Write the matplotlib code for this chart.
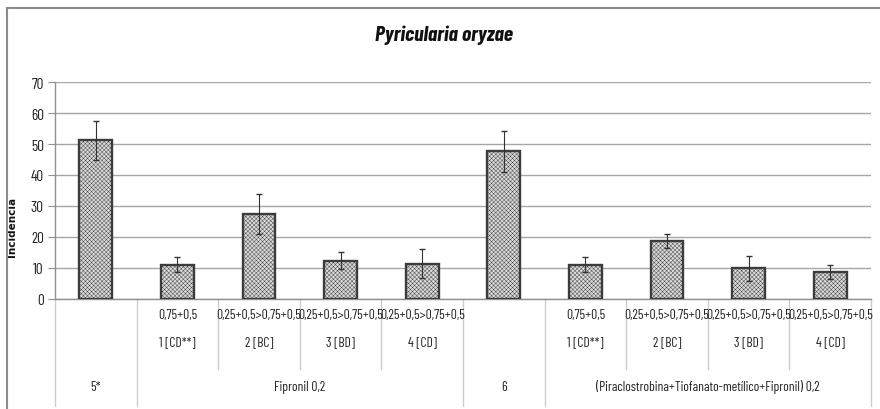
import matplotlib
matplotlib.use("Agg")
import matplotlib.pyplot as plt
from matplotlib.lines import Line2D
import numpy as np

# --- data -------------------------------------------------------------
incidencia = [51.2, 11.0, 27.3, 12.3, 11.2, 47.6, 11.0, 18.6, 9.8, 8.6]
erro = [6.2, 2.4, 6.5, 2.9, 4.7, 6.5, 2.4, 2.4, 4.1, 2.4]
doses = ["", "0,75+0,5", "0,25+0,5>0,75+0,5", "0,25+0,5>0,75+0,5",
         "0,25+0,5>0,75+0,5", "", "0,75+0,5", "0,25+0,5>0,75+0,5",
         "0,25+0,5>0,75+0,5", "0,25+0,5>0,75+0,5"]
tratamentos = ["", "1 [CD**]", "2 [BC]", "3 [BD]", "4 [CD]",
               "", "1 [CD**]", "2 [BC]", "3 [BD]", "4 [CD]"]
grupos = ["5*", "Fipronil 0,2", "6",
          "(Piraclostrobina+Tiofanato-metílico+Fipronil) 0,2"]
grupo_tamanho = [1, 4, 1, 4]
y_ticks = [0, 10, 20, 30, 40, 50, 60, 70]

# --- style ------------------------------------------------------------
plt.rcParams["font.family"] = ["Barlow Condensed", "DejaVu Sans"]
plt.rcParams["hatch.linewidth"] = 0.3
plt.rcParams["hatch.color"] = "#b4b4b4"
TXT = "#222222"
FS = 9.8

fig = plt.figure(figsize=(8.8, 4.1), dpi=100)
ax = fig.add_axes([0.0625, 0.2695, 0.9273, 0.5273])

n = len(incidencia)
x = np.arange(n)
ax.bar(x, incidencia, width=0.40, color="#d9d9d9", edgecolor="#3c3c3c",
       linewidth=1.7, hatch="xxxxxxxx", zorder=3)
ax.errorbar(x, incidencia, yerr=erro, fmt="none", ecolor="#333333",
            elinewidth=0.8, capsize=2.4, capthick=1.0, zorder=4)

ax.set_xlim(-0.5, n - 0.5)
ax.set_ylim(0, 70)
ax.set_yticks(y_ticks)
ax.set_yticklabels([str(v) for v in y_ticks], fontsize=11, color=TXT)
ax.tick_params(axis="y", length=5, width=0.8, color="#909090", pad=3)
ax.set_xticks([])
ax.grid(axis="y", color="#a6a6a6", linewidth=1.0, zorder=0)
for side in ("top", "right"):
    ax.spines[side].set_visible(False)
for side in ("left", "bottom"):
    ax.spines[side].set_color("#909090")
    ax.spines[side].set_linewidth(1.0)

ax.set_ylabel("Incidência", fontsize=7.5, fontweight="bold",
              family="DejaVu Sans", color="#111111")
ax.yaxis.set_label_coords(-0.046, 0.335)

# --- multi-level category axis --------------------------------------
tr = ax.get_xaxis_transform()
for i in range(n):
    ax.text(x[i], -0.075, doses[i], transform=tr, ha="center", va="center",
            fontsize=FS, color=TXT)
    ax.text(x[i], -0.20, tratamentos[i], transform=tr, ha="center",
            va="center", fontsize=FS, color=TXT)

inner_bottom = -0.328
outer_bottom = -0.495
sep_color = "#cccccc"
start = 0
outer_edges = [-0.5]
for nome, tam in zip(grupos, grupo_tamanho):
    centro = start + (tam - 1) / 2
    ax.text(centro, -0.405, nome, transform=tr, ha="center", va="center",
            fontsize=FS, color=TXT)
    start += tam
    outer_edges.append(start - 0.5)

for e in np.arange(-0.5, n, 1.0):
    bottom = outer_bottom if any(abs(e - o) < 1e-6 for o in outer_edges) else inner_bottom
    ax.add_line(Line2D([e, e], [0, bottom], transform=tr, color=sep_color,
                       linewidth=1.0, clip_on=False))

fig.text(0.505, 0.913, "Pyricularia oryzae", ha="center", va="center",
         fontsize=15.5, fontweight="bold", fontstyle="italic", color="#111111")

# outer chart frame
fig.add_artist(Line2D([0.0076, 0.0076], [0.0, 0.977], transform=fig.transFigure,
                      color="#8c8c8c", linewidth=1.5))
fig.add_artist(Line2D([0.0076, 1.0], [0.977, 0.977], transform=fig.transFigure,
                      color="#8c8c8c", linewidth=1.5))

fig.savefig("out.png", dpi=100, facecolor="white")
